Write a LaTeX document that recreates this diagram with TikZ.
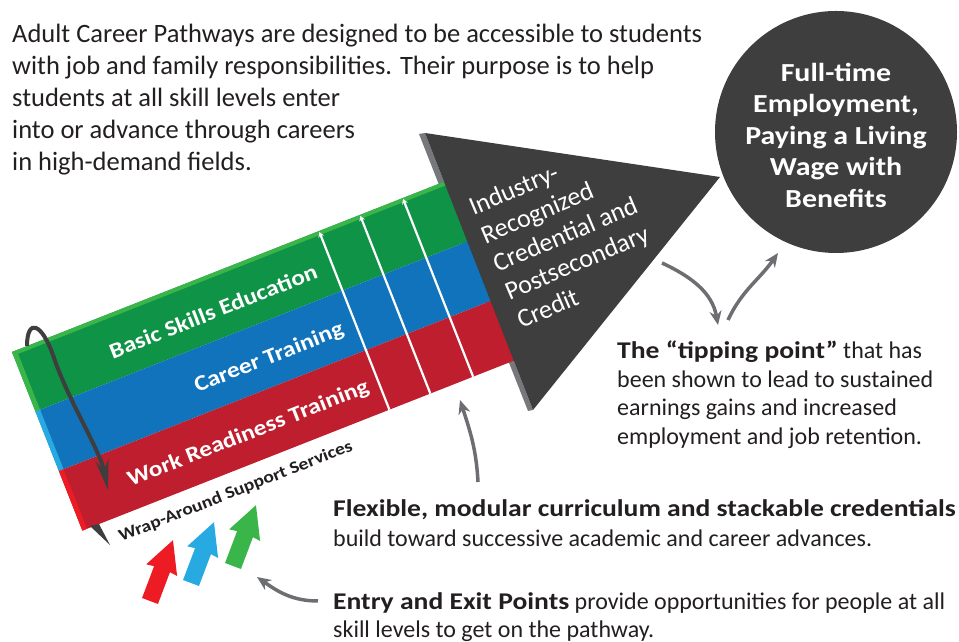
\documentclass[tikz,border=0pt]{standalone}
\usepackage{fontspec}
\setmainfont{Carlito}[BoldFeatures={FakeStretch=1.15}]
\usepackage{xcolor}
\usetikzlibrary{arrows.meta}

\definecolor{inkgrey}{HTML}{231F20}
\definecolor{darkgrey}{HTML}{3E3E3E}
\definecolor{stripgrey}{HTML}{77787B}
\definecolor{arrowgrey}{HTML}{6D6E71}
\definecolor{bargreen}{HTML}{0F9346}
\definecolor{bargreenlight}{HTML}{3AB54A}
\definecolor{barblue}{HTML}{1173BB}
\definecolor{barbluelight}{HTML}{27AAE1}
\definecolor{barred}{HTML}{BE1E2D}
\definecolor{barredlight}{HTML}{ED1C24}

\begin{document}
\begin{tikzpicture}[x=1pt,y=1pt,
  note/.style={text=inkgrey,align=left,inner sep=0pt,anchor=north west},
  bandlabel/.style={text=white,font=\bfseries\fontsize{22}{26}\selectfont,transform shape},
  pointer/.style={draw=arrowgrey,line width=3.5pt,-{Stealth[length=14pt,width=12pt]}},
  entryarrow/.style={fill=#1}]
\useasboundingbox (0,0) rectangle (959,642);

% texts
\node[note,font=\fontsize{26.5}{32}\selectfont] (intro) at (12,618)
  {Adult Career Pathways are designed to be accessible to students\\
   with job and family responsibilities. Their purpose is to help\\
   students at all skill levels enter\\
   into or advance through careers\\
   in high-demand fields.};
\node[note,font=\fontsize{24}{30}\selectfont] (flex) at (333,143)
  {\textbf{Flexible, modular curriculum and stackable credentials}\\
   build toward successive academic and career advances.};
\node[note,font=\fontsize{24}{28}\selectfont] (entry) at (333,50)
  {\textbf{Entry and Exit Points} provide opportunities for people at all\\
   skill levels to get on the pathway.};
\node[note,font=\fontsize{24}{28.5}\selectfont] (tipping) at (617,301)
  {\textbf{The “tipping point”} that has\\
   been shown to lead to sustained\\
   earnings gains and increased\\
   employment and job retention.};

% goal circle
\node[circle,fill=darkgrey,minimum size=242pt,inner sep=0pt] (goal) at (836,510) {};
\node[text=white,align=center,font=\bfseries\fontsize{26}{31.5}\selectfont] (goaltext) at ([yshift=-3pt]goal.center)
  {Full-time\\Employment,\\Paying a Living\\Wage with\\Benefits};

% side of the arrow head
\coordinate (headtop) at (425,509);
\coordinate (headtip) at (720,465);
\coordinate (headbottom) at (533,232);
\fill[stripgrey] (419,508) -- (headtop) -- (headbottom) -- (528,231) -- cycle;

% the three bands
\begin{scope}[shift={(12,290)},rotate=21.5]
  \fill[bargreen] (0,0) rectangle (480,-64);
  \fill[barblue] (0,-64) rectangle (480,-128);
  \fill[barred] (0,-128) rectangle (480,-192);
  \fill[bargreenlight] (0,0) rectangle (480,-4);
  \fill[bargreenlight] (0,0) rectangle (5,-64);
  \fill[barbluelight] (0,-64) rectangle (5,-128);
  \fill[barredlight] (0,-128) rectangle (5,-192);
  \foreach \s in {330,374,420}
    \draw[white,line width=2.2pt,-{Stealth[length=5pt,width=6pt]}] (\s,-192) -- (\s,-1);
  \node[bandlabel] (basic) at (202,-36) {Basic Skills Education};
  \node[bandlabel] (career) at (237,-100) {Career Training};
  \node[bandlabel] (work) at (190,-163) {Work Readiness Training};
  \node[text=inkgrey,font=\bfseries\fontsize{17}{20}\selectfont,transform shape] (wrap) at (157,-212)
    {Wrap-Around Support Services};
\end{scope}

% arrow head
\fill[darkgrey] (headtop) -- (headtip) -- (headbottom) -- cycle;
\node[text=white,align=left,rotate=23,font=\fontsize{26}{30.7}\selectfont] (credential) at (565,408)
  {Industry-\\Recognized\\Credential and\\Postsecondary\\Credit};

% wrap-around arrow
\draw[draw=darkgrey,line width=4pt,-{Stealth[length=30pt,width=13pt]}]
  (27,296) .. controls (27,324) and (42,320) .. (54,284)
  .. controls (70,238) and (100,192) .. (108,152);
\fill[darkgrey] (90,116) -- (99,118) -- (110,97) -- cycle;

% entry arrows
\foreach \col/\x/\y in {barredlight/150/41, barbluelight/191/59, bargreenlight/233/76}
  \fill[entryarrow=\col,shift={(\x,\y)},rotate=-20.7]
    (-8.5,0) -- (8.5,0) -- (8.5,34) -- (16.5,33) -- (0,65) -- (-16.5,33) -- (-8.5,34) -- cycle;

% pointers
\coordinate (flexfrom) at (478,160);
\coordinate (flexto) at (460,242);
\coordinate (entryfrom) at (318,41);
\coordinate (entryto) at (257,65);
\coordinate (tipin) at (662,379);
\coordinate (tipat) at (718,317);
\coordinate (tipout) at (728,322);
\coordinate (goalat) at (778,389);
\draw[pointer] (flexfrom) to[out=93,in=-72] (flexto);
\draw[pointer] (entryfrom) to[out=180,in=-35] (entryto);
\draw[pointer] (tipin) to[out=-25,in=100] (tipat);
\draw[pointer] (tipout) to[out=65,in=-125] (goalat);
\end{tikzpicture}
\end{document}
